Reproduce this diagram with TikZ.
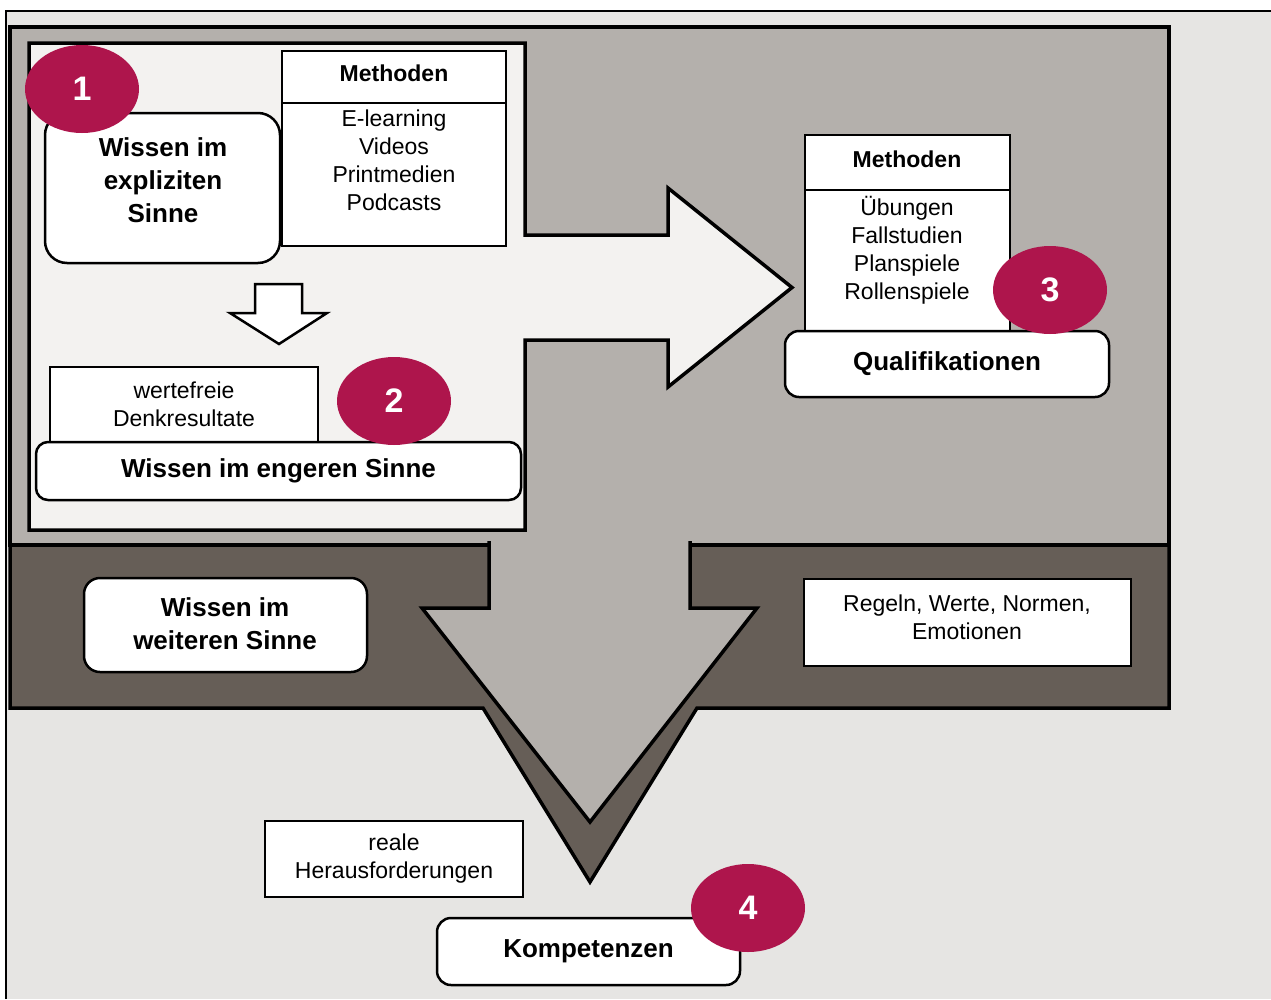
\documentclass[tikz,border=0pt]{standalone}
\usepackage{fontspec}
\setmainfont{Liberation Sans}
\usetikzlibrary{shapes.geometric}
\definecolor{bgL}{HTML}{E6E5E3}
\definecolor{midG}{HTML}{B4B0AC}
\definecolor{darkG}{HTML}{665E57}
\definecolor{panelC}{HTML}{F3F2F0}
\definecolor{crim}{HTML}{AE154C}
\tikzset{
  boxW/.style={draw=black, line width=2.5pt, fill=white, inner sep=0pt},
  rboxW/.style={boxW, rounded corners=#1},
  rboxW/.default=14pt,
  numC/.style={ellipse, fill=crim, text=white, inner sep=0pt, minimum width=114pt, minimum height=88pt, font=\bfseries\fontsize{34}{34}\selectfont},
  txtB/.style={align=center, inner sep=0pt, font=\bfseries\fontsize{26}{33}\selectfont},
  txtR/.style={align=center, inner sep=0pt, font=\fontsize{23}{28}\selectfont},
  hdr/.style={align=center, inner sep=0pt, font=\bfseries\fontsize{23}{28}\selectfont},
  bigline/.style={line width=3.5pt, line join=miter},
}
\begin{document}
\begin{tikzpicture}[x=1pt,y=-1pt]
\useasboundingbox (0,0) rectangle (1271,999);
% outer background and frame
\fill[white] (0,0) rectangle (1271,999);
\fill[bgL] (6,11) rectangle (1271,999);
\draw[line width=1.5pt] (6,999) -- (6,11) -- (1271,11);
% medium gray region
\draw[fill=midG, bigline] (10,27) rectangle (1169,545);
% dark band with V
\draw[fill=darkG, bigline] (10,545) -- (1169,545) -- (1169,708) -- (697,708) -- (590,882) -- (483,708) -- (10,708) -- cycle;
% light gray down arrow
\fill[midG] (489,540) -- (489,608) -- (422,608) -- (590,822) -- (757,608) -- (690,608) -- (690,540) -- cycle;
\draw[bigline] (489,541) -- (489,608) -- (422,608) -- (590,822) -- (757,608) -- (690,608) -- (690,541);
% inner panel with right arrow
\draw[fill=panelC, bigline] (29,43) -- (525,43) -- (525,235) -- (668,235) -- (668,188) -- (792,287.5) -- (668,387) -- (668,340) -- (525,340) -- (525,530) -- (29,530) -- cycle;
% Wissen im expliziten Sinne
\node[rboxW=22pt, minimum width=235pt, minimum height=150pt] (expl) at (162.5,188) {};
\node[txtB] (explT) at (163,180) {Wissen im\\expliziten\\Sinne};
% Methoden left
\node[boxW, minimum width=224pt, minimum height=195pt] (meth1) at (394,148.5) {};
\coordinate (m1a) at (282,103);
\coordinate (m1b) at (506,103);
\draw[line width=2.5pt] (m1a) -- (m1b);
\node[hdr] (meth1H) at (394,73) {Methoden};
\node[txtR] (meth1T) at (394,160) {E-learning\\Videos\\Printmedien\\Podcasts};
% small down arrow
\draw[fill=white, line width=2.5pt, line join=miter] (255,284) -- (302,284) -- (302,313) -- (327,313) -- (279,344) -- (230,313) -- (255,313) -- cycle;
% wertefreie Denkresultate
\node[boxW, minimum width=268pt, minimum height=83pt] (wert) at (184,408.5) {};
\node[txtR] (wertT) at (184,404) {wertefreie\\Denkresultate};
% Wissen im engeren Sinne
\node[rboxW=12pt, minimum width=485pt, minimum height=58pt, txtB] (eng) at (278.5,471) {Wissen im engeren Sinne};
% right Methoden
\node[boxW, minimum width=205pt, minimum height=205pt] (meth2) at (907.5,237.5) {};
\coordinate (m2a) at (805,190);
\coordinate (m2b) at (1010,190);
\draw[line width=2.5pt] (m2a) -- (m2b);
\node[hdr] (meth2H) at (907,159) {Methoden};
\node[txtR] (meth2T) at (907,250) {Übungen\\Fallstudien\\Planspiele\\Rollenspiele};
% Qualifikationen
\node[rboxW=14pt, minimum width=324pt, minimum height=66pt, txtB] (qual) at (947,364) {Qualifikationen};
% lower band boxes
\node[rboxW=16pt, minimum width=283pt, minimum height=94pt] (weit) at (225.5,625) {};
\node[txtB] (weitT) at (225,624) {Wissen im\\weiteren Sinne};
\node[boxW, minimum width=327pt, minimum height=87pt] (regeln) at (967.5,622.5) {};
\node[txtR] (regelnT) at (967,617) {Regeln, Werte, Normen,\\Emotionen};
\node[boxW, minimum width=258pt, minimum height=76pt] (reale) at (394,859) {};
\node[txtR] (realeT) at (394,859) {reale\\Herausforderungen};
\node[rboxW=14pt, minimum width=303pt, minimum height=67pt, txtB] (komp) at (588.5,951.5) {Kompetenzen};
% number circles
\node[numC] (n1) at (82,89) {1};
\node[numC] (n2) at (394,401) {2};
\node[numC] (n3) at (1050,290) {3};
\node[numC] (n4) at (748,908) {4};
\end{tikzpicture}
\end{document}
